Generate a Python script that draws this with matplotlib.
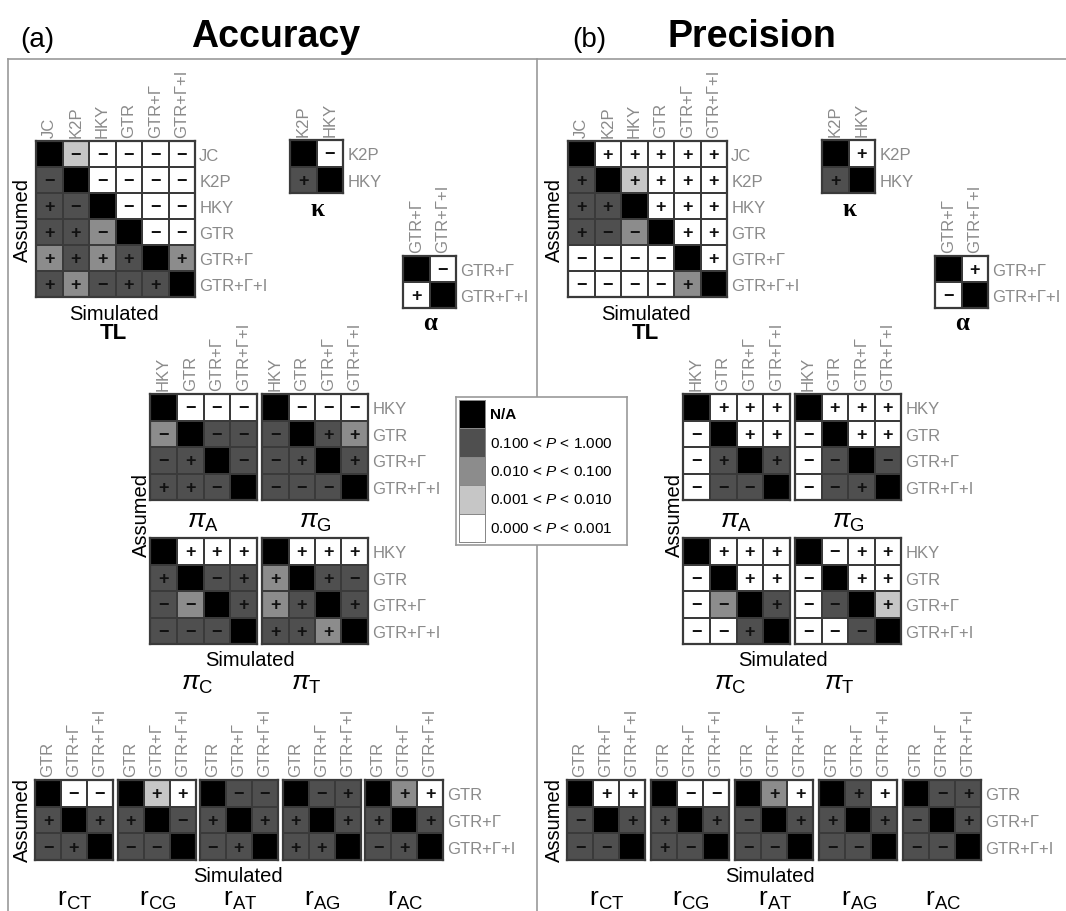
import matplotlib
matplotlib.use("Agg")
import matplotlib.pyplot as plt
from matplotlib.colors import ListedColormap
from matplotlib.lines import Line2D
import numpy as np

plt.rcParams['font.family'] = ['Liberation Sans', 'DejaVu Sans']
plt.rcParams['mathtext.fontset'] = 'custom'
plt.rcParams['mathtext.rm'] = 'Liberation Sans'
plt.rcParams['mathtext.it'] = 'Liberation Sans:italic'
plt.rcParams['mathtext.bf'] = 'Liberation Sans:bold'

W, H = 1066, 912

# model names
models6 = ["JC", "K2P", "HKY", "GTR", "GTR+Γ", "GTR+Γ+I"]
models4 = models6[2:]
models3 = models6[3:]
kappa_models = ["K2P", "HKY"]
alpha_models = ["GTR+Γ", "GTR+Γ+I"]

# P-value classes: N = N/A, 1 = 0.1-1, 2 = 0.01-0.1, 3 = 0.001-0.01, 4 = <0.001
legend_labels = ["N/A", "0.100 < $P$ < 1.000", "0.010 < $P$ < 0.100",
                 "0.001 < $P$ < 0.010", "0.000 < $P$ < 0.001"]
level_colors = ["#000000", "#4f4f4f", "#8c8c8c", "#c6c6c6", "#ffffff"]

# rows = assumed, cols = simulated; each cell = class + sign of difference
acc_tl = ["N 3- 4- 4- 4- 4-",
          "1- N 4- 4- 4- 4-",
          "1+ 1- N 4- 4- 4-",
          "1+ 1+ 2- N 4- 4-",
          "2+ 1+ 2+ 1+ N 2+",
          "1+ 2+ 1- 1+ 1+ N"]
acc_kappa = ["N 4-", "1+ N"]
acc_alpha = ["N 4-", "4+ N"]
acc_pi_a = ["N 4- 4- 4-", "2- N 1- 1-", "1- 1+ N 1-", "1+ 1+ 1- N"]
acc_pi_g = ["N 4- 4- 4-", "1- N 1+ 2+", "1- 1+ N 1+", "1- 1- 1- N"]
acc_pi_c = ["N 4+ 4+ 4+", "1+ N 1- 1+", "1- 2- N 1+", "1- 1- 1- N"]
acc_pi_t = ["N 4+ 4+ 4+", "2+ N 1+ 1-", "2+ 1+ N 1+", "1+ 1+ 2+ N"]
acc_r_ct = ["N 4- 4-", "1+ N 1+", "1- 1+ N"]
acc_r_cg = ["N 3+ 4+", "1+ N 1-", "1- 1- N"]
acc_r_at = ["N 1- 1-", "1+ N 1+", "1- 1+ N"]
acc_r_ag = ["N 1- 1+", "1+ N 1+", "1+ 1+ N"]
acc_r_ac = ["N 2+ 4+", "1+ N 1+", "1- 1+ N"]

pre_tl = ["N 4+ 4+ 4+ 4+ 4+",
          "1+ N 3+ 4+ 4+ 4+",
          "1+ 1+ N 4+ 4+ 4+",
          "1+ 1- 2- N 4+ 4+",
          "4- 4- 4- 4- N 4+",
          "4- 4- 4- 4- 2+ N"]
pre_kappa = ["N 4+", "1+ N"]
pre_alpha = ["N 4+", "4- N"]
pre_pi_a = ["N 4+ 4+ 4+", "4- N 4+ 4+", "4- 1+ N 1+", "4- 1- 1- N"]
pre_pi_g = ["N 4+ 4+ 4+", "4- N 4+ 4+", "4- 1- N 1-", "4- 1- 1+ N"]
pre_pi_c = ["N 4+ 4+ 4+", "4- N 4+ 4+", "4- 2- N 1+", "4- 4- 1+ N"]
pre_pi_t = ["N 4- 4+ 4+", "4- N 4+ 4+", "4- 1- N 3+", "4- 4- 1- N"]
pre_r_ct = ["N 4+ 4+", "1- N 1+", "1- 1- N"]
pre_r_cg = ["N 4- 4-", "1+ N 1+", "1+ 1- N"]
pre_r_at = ["N 2+ 4+", "1- N 1+", "1- 1- N"]
pre_r_ag = ["N 1+ 4+", "1+ N 1+", "1- 1- N"]
pre_r_ac = ["N 1- 1+", "1- N 1+", "1- 1- N"]

r_names = ["CT", "CG", "AT", "AG", "AC"]

cmap = ListedColormap(level_colors)
edge = "#3a3a3a"
gray = "#8a8a8a"

fig = plt.figure(figsize=(W / 100, H / 100), dpi=100)


def fx(x):
    return x / W


def fy(y):
    return 1 - y / H


def parse(rows):
    lev, sgn = [], []
    for r in rows:
        lr, sr = [], []
        for tok in r.split():
            if tok == "N":
                lr.append(0)
                sr.append("")
            else:
                lr.append(int(tok[0]))
                sr.append("+" if tok[1] == "+" else "\u2212")
        lev.append(lr)
        sgn.append(sr)
    return np.array(lev), sgn


def draw_matrix(box, cells, cols=None, rows=None):
    x0, y0, x1, y1 = box
    ax = fig.add_axes([fx(x0), fy(y1), (x1 - x0) / W, (y1 - y0) / H])
    lev, sgn = parse(cells)
    n = lev.shape[0]
    ax.pcolormesh(np.arange(n + 1), np.arange(n + 1), lev, cmap=cmap,
                  vmin=-0.5, vmax=4.5, edgecolors=edge, linewidth=1.3)
    ax.set_xlim(0, n)
    ax.set_ylim(n, 0)
    for i in range(n):
        for j in range(n):
            if sgn[i][j]:
                ax.text(j + 0.5, i + 0.52, sgn[i][j], ha="center", va="center",
                        fontsize=13, fontweight="bold", color="#111111")
    ax.xaxis.tick_top()
    ax.yaxis.tick_right()
    ax.tick_params(length=0, pad=3, labelsize=12, labelcolor=gray)
    if cols:
        ax.set_xticks(np.arange(n) + 0.5)
        ax.set_xticklabels(cols, rotation=90, va="bottom")
    else:
        ax.set_xticks([])
    if rows:
        ax.set_yticks(np.arange(n) + 0.5)
        ax.set_yticklabels(rows)
    else:
        ax.set_yticks([])
    for s in ax.spines.values():
        s.set_color(edge)
        s.set_linewidth(1.6)
    return ax


def label(x, y, s, size=12, **kw):
    fig.text(fx(x), fy(y), s, ha="center", va="center", fontsize=size, **kw)


# panel frame lines
frame = dict(color="#999999", lw=1.2, zorder=-1)
fig.add_artist(Line2D([fx(8), fx(8)], [fy(60), 0], **frame))
fig.add_artist(Line2D([fx(537), fx(537)], [fy(60), 0], **frame))
fig.add_artist(Line2D([fx(8), 1], [fy(60), fy(60)], **frame))

panels = [
    (0, "(a)", 37, "Accuracy", 276, acc_tl, acc_kappa, acc_alpha,
     [acc_pi_a, acc_pi_g, acc_pi_c, acc_pi_t],
     [acc_r_ct, acc_r_cg, acc_r_at, acc_r_ag, acc_r_ac]),
    (532, "(b)", 589, "Precision", 752, pre_tl, pre_kappa, pre_alpha,
     [pre_pi_a, pre_pi_g, pre_pi_c, pre_pi_t],
     [pre_r_ct, pre_r_cg, pre_r_at, pre_r_ag, pre_r_ac]),
]

for dx, tag, tag_x, title, title_x, tl, kap, alp, pis, rs in panels:
    label(tag_x, 40, tag, size=20)
    label(title_x, 37, title, size=27, fontweight="bold")

    # TL block
    draw_matrix((36 + dx, 142, 195 + dx, 298), tl, models6, models6)
    label(22 + dx, 220, "Assumed", size=14.5, rotation=90)
    label(114 + dx, 315, "Simulated", size=14.5)
    label(113 + dx, 334, "TL", size=16, fontweight="bold")

    draw_matrix((290 + dx, 141, 343 + dx, 194), kap, kappa_models, kappa_models)
    label(317 + dx, 210, "κ", size=18, fontweight="bold", family="Liberation Serif")
    draw_matrix((403 + dx, 257, 456 + dx, 309), alp, alpha_models, alpha_models)
    label(430 + dx, 324, "α", size=18, fontweight="bold", family="Liberation Serif")

    # pi block
    pdx = dx + (0 if dx == 0 else 1)
    draw_matrix((150 + pdx, 395, 257 + pdx, 501), pis[0], models4)
    draw_matrix((262 + pdx, 395, 368 + pdx, 501), pis[1], models4, models4)
    draw_matrix((150 + pdx, 539, 257 + pdx, 645), pis[2])
    draw_matrix((262 + pdx, 539, 368 + pdx, 645), pis[3], None, models4)
    label(141 + pdx, 515, "Assumed", size=14.5, rotation=90)
    label(203 + pdx, 522, r"$\pi_{\mathrm{A}}$", size=19)
    label(315 + pdx, 522, r"$\pi_{\mathrm{G}}$", size=19)
    label(250 + pdx, 660, "Simulated", size=14.5)
    label(197 + pdx, 684, r"$\pi_{\mathrm{C}}$", size=19)
    label(306 + pdx, 684, r"$\pi_{\mathrm{T}}$", size=19)

    # r block
    step = 82.5 if dx == 0 else 84
    rx0 = 35 + dx
    for k, (name, cells) in enumerate(zip(r_names, rs)):
        x0 = rx0 + k * step
        draw_matrix((x0, 781, x0 + 78, 861), cells, models3,
                    models3 if k == len(rs) - 1 else None)
        label(x0 + 40, 900, r"$\mathrm{r}_{\mathrm{%s}}$" % name, size=19)
    label(22 + dx, 820, "Assumed", size=14.5, rotation=90)
    label(238 + dx, 877, "Simulated", size=14.5)

# legend
lax = fig.add_axes([fx(456), fy(546), (627 - 456) / W, (546 - 398) / H])
lax.set_zorder(10)
lax.set_xlim(0, 6.1)
lax.set_ylim(5.1, -0.1)
lax.pcolormesh([0.1, 1.05], np.arange(6), np.arange(5).reshape(5, 1), cmap=cmap,
               vmin=-0.5, vmax=4.5, edgecolors="#888888", linewidth=0.6)
for i, t in enumerate(legend_labels):
    lax.text(1.2, i + 0.5, t, va="center", ha="left", fontsize=11,
             fontweight="bold" if i == 0 else "normal")
lax.set_xticks([])
lax.set_yticks([])
lax.set_facecolor("white")
for s in lax.spines.values():
    s.set_color("#999999")
    s.set_linewidth(1.2)

fig.savefig("out.png", dpi=100, facecolor="white")
